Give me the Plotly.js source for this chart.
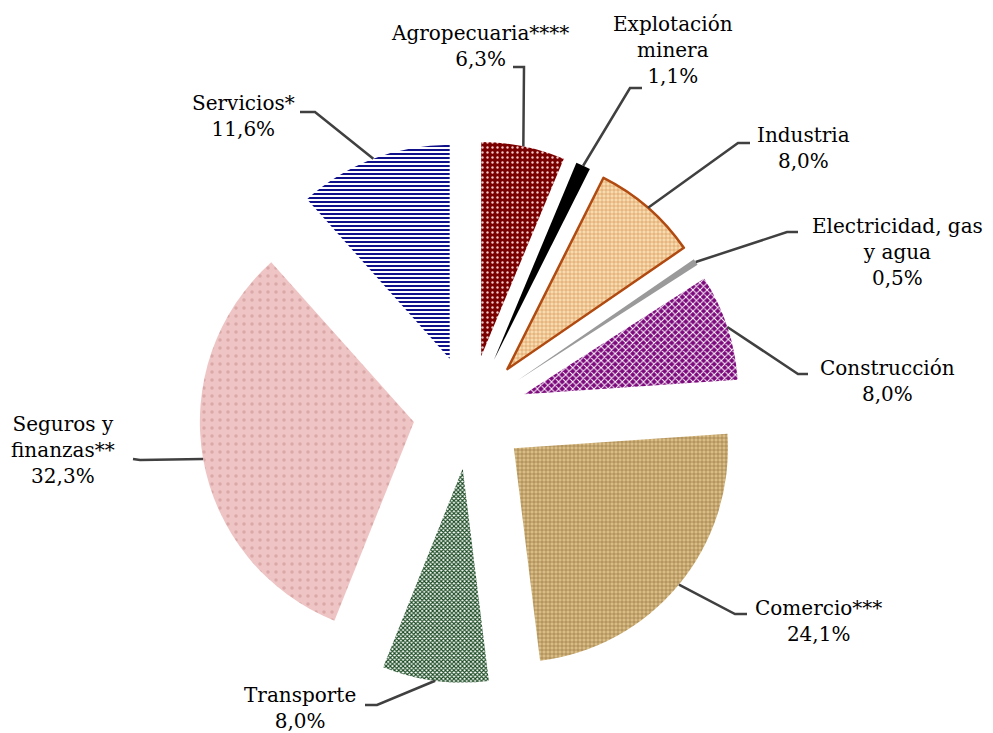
<!DOCTYPE html>
<html>
<head>
<meta charset="utf-8">
<script src="https://cdn.plot.ly/plotly-3.0.1.min.js"></script>
<style>html,body{margin:0;padding:0;background:#fff;}#chart{width:993px;height:733px;}</style>
</head>
<body>
<div id="chart"></div>
<script>
// ---- data ----
const categories = ['Agropecuaria****','Explotación<br>minera','Industria','Electricidad, gas<br>y agua','Construcción','Comercio***','Transporte','Seguros y<br>finanzas**','Servicios*'];
const shares = [6.3, 1.1, 8.0, 0.5, 8.0, 24.1, 8.0, 32.3, 11.6];

// ---- styles ----
const bgColors = ['#7a0000','#000000','#f8dcb0','#9a9a9a','#7d0a7d','#d9bd85','#ffffff','#efc4c4','#ffffff'];
const fgColors = ['#f0c8c8','#000000','#d08a48','#9a9a9a','#ffffff','#8a6832','#17481f','#dba8a8','#10108a'];
const patShapes = ['.','','+','','x','+','x','.','-'];
const patSizes = [5,8,4,8,5,4,3,8,4];
const patSolid = [0.18,0.3,0.25,0.3,0.35,0.25,0.6,0.15,0.5];
const lineColors = ['#ffffff','#ffffff','#b04a10','#ffffff','#ffffff','#ffffff','#ffffff','#ffffff','#ffffff'];
const lineWidths = [0,0,2.5,0,0,0,0,0,0];
const pullAmt = 0.266;

// label layout, pixel positions: text centre, elbow, line end
const labelText = [[480,46],[673,50],[803,148],[897,252],[887,381],[818,621],[300,708],[63,450],[243,116]];
const labelElbow = [[524,67],[630,88],[738,143],[787,232],[798,374],[735,614],[377,705],[140,460],[315,112]];
const labelEnd = [[513,67],[642,88],[750,143],[798,232],[808,374],[747,614],[365,705],[133,459],[300,112]];

const W = 993, H = 733;
const px = x => x / W, py = y => 1 - y / H;
const fmt = v => v.toFixed(1).replace('.', ',') + '%';

const trace = {
  type: 'pie',
  labels: categories,
  values: shares,
  sort: false,
  direction: 'clockwise',
  rotation: 0,
  pull: shares.map(() => pullAmt),
  textinfo: 'none',
  hoverinfo: 'none',
  domain: {x: [199/W, 741/W], y: [1-683/H, 1-141/H]},
  marker: {
    colors: bgColors,
    line: {color: lineColors, width: lineWidths},
    pattern: {shape: patShapes, bgcolor: bgColors, fgcolor: fgColors, size: patSizes, solidity: patSolid, fillmode: 'replace'}
  }
};

const annotations = categories.map((c, i) => ({
  text: c + '<br>' + fmt(shares[i]),
  x: px(labelText[i][0]), y: py(labelText[i][1]),
  xref: 'paper', yref: 'paper', xanchor: 'center', yanchor: 'middle',
  showarrow: false, align: 'center',
  font: {family: 'DejaVu Serif', size: 20, color: '#000'}
}));

const layout = {
  width: W, height: H,
  margin: {l: 0, r: 0, t: 0, b: 0},
  paper_bgcolor: '#fff',
  showlegend: false,
  annotations: annotations
};

Plotly.newPlot('chart', [trace], layout, {displayModeBar: false, staticPlot: true}).then(gd => {
  const cd0 = gd.calcdata[0][0];
  const cx = cd0.cx, cy = cd0.cy, r = cd0.r;
  const total = shares.reduce((a, b) => a + b, 0);
  let cum = 0;
  const shapes = shares.map((v, i) => {
    const th = 2 * Math.PI * (cum + v / 2) / total;
    cum += v;
    const R = r * (1 + pullAmt);
    const ax = cx + R * Math.sin(th), ay = cy - R * Math.cos(th);
    const path = 'M' + px(ax) + ',' + py(ay) + ' L' + px(labelElbow[i][0]) + ',' + py(labelElbow[i][1]) +
                 ' L' + px(labelEnd[i][0]) + ',' + py(labelEnd[i][1]);
    return {type: 'path', path: path, xref: 'paper', yref: 'paper', line: {color: '#404040', width: 2.5}};
  });
  Plotly.relayout(gd, {shapes: shapes});
});
</script>
</body>
</html>
